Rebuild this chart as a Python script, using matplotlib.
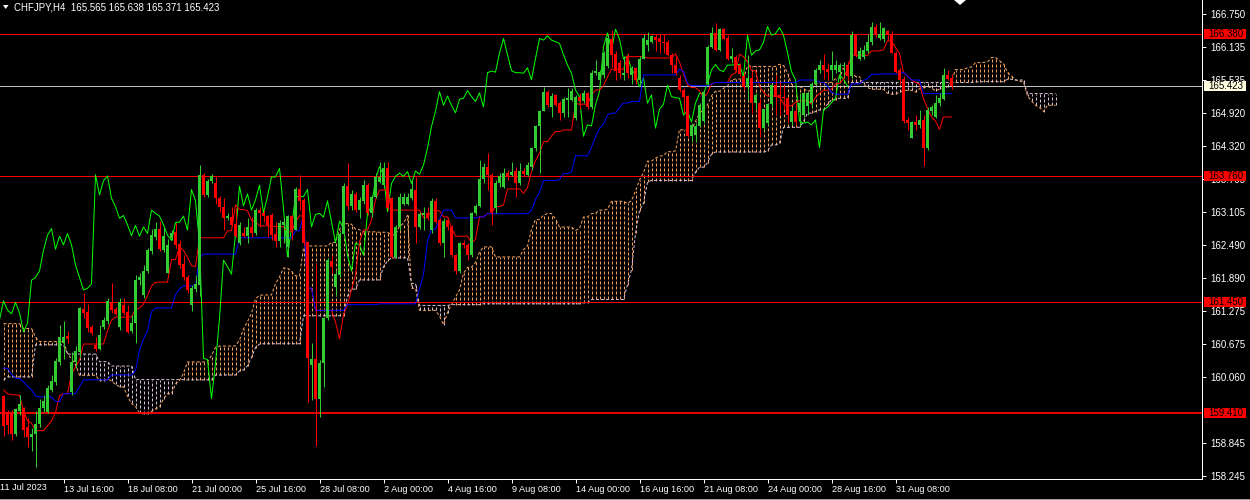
import numpy as np
import pandas as pd
import matplotlib
matplotlib.use("Agg")
import matplotlib.pyplot as plt
from matplotlib.patches import Rectangle, Polygon
from matplotlib.lines import Line2D
from matplotlib import transforms

plt.rcParams['font.family'] = ['Liberation Sans', 'DejaVu Sans']

# CHFJPY H4 candles, first one is 11 Jul 2023 04:00 (bar 1)
opens = [
    159.72, 159.43, 159.40, 159.01, 159.44, 159.49, 159.15, 158.97, 159.01, 159.20,
    159.49, 159.43, 159.83, 159.97, 160.35, 160.70, 160.82, 159.80, 160.34, 160.53,
    161.32, 161.27, 160.98, 160.66, 160.58, 160.99, 161.10, 161.45, 161.32, 160.98,
    161.40, 161.27, 160.91, 161.06, 161.85, 161.58, 162.01, 162.39, 162.65, 162.79,
    162.41, 161.99, 162.62, 162.74, 162.51, 162.15, 161.91, 161.40, 161.69, 161.76,
    163.79, 163.42, 163.68, 163.63, 163.36, 163.20, 162.99, 163.02, 162.88, 162.53,
    162.72, 162.66, 162.82, 162.71, 163.14, 163.09, 163.03, 163.05, 162.70, 162.58,
    162.86, 162.47, 163.03, 162.78, 163.52, 163.33, 162.55, 160.29, 160.39, 159.67,
    160.32, 161.15, 162.20, 161.73, 161.94, 162.70, 163.58, 163.22, 163.44, 163.14,
    163.31, 163.60, 163.09, 163.39, 163.66, 163.60, 163.91, 163.36, 162.28, 162.82,
    163.25, 163.26, 163.36, 163.51, 162.83, 163.05, 163.08, 162.77, 163.31, 162.96,
    162.54, 162.96, 162.83, 162.31, 162.02, 162.53, 162.50, 162.31, 163.08, 163.21,
    163.71, 163.94, 163.79, 163.17, 163.63, 163.57, 163.82, 163.79, 163.86, 163.63,
    163.86, 163.79, 163.94, 164.28, 164.68, 164.96, 165.32, 165.04, 165.26, 165.11,
    164.92, 165.17, 165.17, 164.84, 165.23, 165.14, 165.30, 165.04, 165.66, 165.54,
    165.63, 165.79, 166.29, 166.01, 165.85, 165.63, 165.98, 165.63, 165.76, 165.54,
    165.93, 166.18, 166.24, 166.33, 166.30, 166.24, 166.24, 166.00, 165.81, 165.57,
    165.35, 165.24, 164.50, 164.52, 164.69, 164.78, 165.47, 166.15, 166.40, 166.09,
    166.47, 166.30, 165.93, 165.96, 165.81, 165.60, 165.41, 165.57, 165.11, 165.11,
    164.65, 164.74, 165.09, 165.44, 165.26, 165.23, 165.20, 164.76, 164.96, 164.95,
    164.90, 165.05, 165.11, 165.47, 165.72, 165.82, 165.74, 165.72, 165.72, 165.68,
    165.80, 165.82, 165.60, 166.36, 165.93, 165.95, 166.07, 166.23, 166.52, 166.30,
    166.29, 166.43, 166.39, 166.04, 165.72, 165.55, 164.80, 164.47, 164.76, 164.71,
    164.80, 164.29, 164.96, 164.86, 165.11, 165.19, 165.63, 165.565,
]
highs = [
    159.74, 159.46, 159.46, 159.50, 159.74, 159.52, 159.31, 159.12, 159.44, 159.67,
    159.74, 159.92, 160.10, 160.41, 161.02, 161.10, 160.92, 160.53, 160.63, 161.36,
    161.61, 161.42, 161.02, 160.81, 161.02, 161.18, 161.53, 161.79, 161.36, 161.52,
    161.53, 161.39, 161.21, 161.94, 161.98, 162.13, 162.44, 162.80, 162.93, 162.94,
    162.83, 162.60, 162.77, 162.91, 162.59, 162.31, 161.94, 161.76, 161.94, 163.97,
    163.82, 163.72, 163.80, 163.76, 163.40, 163.36, 163.08, 163.20, 163.17, 162.93,
    162.83, 162.99, 163.02, 163.17, 163.20, 163.14, 163.05, 163.08, 162.93, 162.96,
    162.99, 163.05, 163.05, 163.57, 163.79, 163.36, 162.56, 160.69, 162.16, 160.38,
    161.18, 162.25, 162.31, 162.04, 162.74, 163.63, 164.00, 163.51, 163.48, 163.39,
    163.69, 163.63, 163.42, 163.82, 164.03, 164.03, 164.03, 163.39, 162.87, 163.45,
    163.45, 163.45, 163.69, 163.75, 163.11, 163.20, 163.20, 163.36, 163.36, 162.99,
    162.99, 163.01, 162.86, 162.34, 162.56, 162.59, 162.53, 163.11, 163.25, 164.07,
    164.00, 164.19, 163.82, 163.69, 163.82, 163.91, 163.88, 164.03, 163.94, 164.00,
    163.91, 164.03, 164.31, 164.71, 164.98, 165.41, 165.35, 165.29, 165.28, 165.14,
    165.23, 165.38, 165.38, 165.26, 165.29, 165.35, 165.32, 165.72, 165.90, 165.72,
    166.06, 166.39, 166.46, 166.06, 165.90, 165.97, 166.03, 165.79, 165.78, 165.97,
    166.39, 166.41, 166.36, 166.38, 166.38, 166.39, 166.27, 166.03, 165.97, 165.63,
    165.38, 165.26, 164.74, 164.74, 165.11, 165.35, 166.18, 166.52, 166.58, 166.50,
    166.49, 166.36, 166.12, 165.99, 165.84, 165.69, 165.99, 165.69, 165.29, 165.20,
    165.01, 165.12, 165.47, 165.63, 165.50, 165.44, 165.23, 165.04, 165.11, 165.29,
    165.32, 165.32, 165.50, 165.75, 165.90, 166.01, 165.84, 166.06, 165.90, 165.84,
    165.87, 165.87, 166.44, 166.39, 166.15, 166.18, 166.39, 166.60, 166.56, 166.61,
    166.52, 166.46, 166.43, 166.07, 165.75, 165.60, 164.86, 164.78, 164.89, 164.98,
    164.89, 165.03, 165.08, 165.26, 165.29, 165.75, 165.72, 165.638,
]
lows = [
    158.99, 159.01, 158.91, 158.99, 159.36, 158.96, 158.78, 158.70, 158.42, 159.15,
    159.43, 159.40, 159.80, 159.92, 160.29, 160.40, 160.69, 159.74, 160.23, 160.44,
    161.15, 160.90, 160.84, 160.55, 160.56, 160.96, 161.05, 161.24, 161.21, 160.93,
    161.20, 160.87, 160.87, 160.69, 161.76, 161.52, 161.98, 162.34, 162.59, 162.39,
    162.36, 161.98, 162.59, 162.44, 162.07, 161.85, 161.61, 161.29, 161.64, 161.55,
    163.39, 163.39, 163.63, 163.26, 163.10, 162.77, 162.96, 162.84, 162.65, 162.50,
    162.65, 162.53, 162.65, 162.68, 162.83, 162.93, 162.65, 162.59, 162.47, 162.47,
    162.53, 162.28, 162.59, 162.77, 163.14, 162.50, 159.61, 159.64, 158.80, 159.34,
    159.89, 161.11, 161.98, 161.55, 161.91, 162.66, 163.14, 163.14, 163.11, 162.99,
    163.26, 163.05, 163.02, 163.36, 163.63, 163.54, 163.14, 162.25, 162.25, 162.77,
    163.23, 163.23, 163.33, 162.53, 162.80, 162.77, 162.96, 162.71, 162.90, 162.50,
    162.28, 162.77, 162.28, 161.96, 161.99, 162.44, 162.22, 162.28, 163.05, 163.20,
    163.63, 163.51, 162.87, 163.08, 163.57, 163.54, 163.69, 163.76, 163.39, 163.60,
    163.76, 163.76, 163.88, 164.22, 163.82, 164.96, 165.04, 164.86, 165.06, 164.80,
    164.86, 164.86, 165.14, 164.80, 165.01, 165.11, 165.01, 165.01, 165.63, 165.47,
    165.57, 165.75, 165.78, 165.54, 165.57, 165.54, 165.57, 165.47, 165.47, 165.47,
    165.93, 166.06, 166.21, 166.06, 166.03, 166.03, 165.97, 165.66, 165.63, 165.32,
    164.92, 164.49, 164.40, 164.40, 164.68, 164.74, 165.44, 166.12, 166.06, 166.06,
    166.27, 165.90, 165.84, 165.69, 165.60, 165.35, 165.17, 164.92, 165.01, 164.49,
    164.62, 164.71, 165.04, 164.89, 164.89, 165.01, 164.77, 164.71, 164.71, 164.68,
    164.86, 164.89, 165.04, 165.44, 165.66, 165.55, 165.54, 165.54, 165.66, 165.54,
    165.60, 165.54, 165.57, 165.96, 165.90, 165.93, 166.03, 166.18, 166.33, 166.27,
    166.24, 166.27, 166.03, 165.66, 165.44, 164.74, 164.61, 164.46, 164.62, 164.65,
    163.96, 164.25, 164.89, 164.83, 165.06, 165.17, 165.53, 165.371,
]
closes = [
    159.16, 159.18, 159.01, 159.47, 159.57, 159.09, 158.97, 159.02, 159.20, 159.49,
    159.63, 159.87, 159.99, 160.36, 160.80, 160.80, 160.76, 160.34, 160.55, 161.33,
    161.25, 160.97, 160.88, 160.58, 160.84, 161.12, 161.47, 161.30, 161.23, 161.44,
    161.25, 160.90, 161.06, 161.85, 161.90, 162.02, 162.40, 162.68, 162.80, 162.42,
    162.66, 162.50, 162.71, 162.50, 162.13, 161.90, 161.67, 161.70, 161.78, 163.79,
    163.42, 163.68, 163.77, 163.36, 163.20, 162.99, 163.04, 162.87, 162.67, 162.86,
    162.66, 162.83, 162.71, 163.14, 163.08, 163.03, 162.87, 162.68, 162.58, 162.91,
    162.92, 163.03, 162.77, 163.52, 163.31, 162.53, 160.41, 160.39, 159.67, 160.32,
    161.15, 162.22, 162.10, 161.96, 162.70, 163.58, 163.22, 163.44, 163.14, 163.33,
    163.60, 163.09, 163.39, 163.75, 163.75, 163.91, 163.17, 162.28, 162.82, 163.39,
    163.39, 163.39, 163.52, 162.83, 163.06, 163.08, 163.01, 163.31, 162.93, 162.54,
    162.94, 162.82, 162.31, 162.02, 162.53, 162.50, 162.31, 163.08, 163.21, 163.71,
    163.94, 163.79, 163.11, 163.63, 163.76, 163.82, 163.76, 163.85, 163.63, 163.86,
    163.80, 163.97, 164.28, 164.68, 164.96, 165.32, 165.07, 165.24, 165.07, 164.93,
    165.18, 165.20, 165.34, 165.23, 165.14, 165.30, 165.04, 165.67, 165.70, 165.68,
    166.03, 166.30, 166.00, 165.71, 165.67, 165.67, 165.66, 165.76, 165.54, 165.93,
    166.30, 166.27, 166.35, 166.27, 166.24, 166.21, 166.00, 165.81, 165.66, 165.35,
    165.23, 164.50, 164.71, 164.69, 165.08, 165.32, 166.15, 166.40, 166.09, 166.47,
    166.29, 165.92, 165.98, 165.72, 165.64, 165.41, 165.57, 165.11, 165.26, 164.65,
    165.00, 165.09, 165.44, 165.23, 165.21, 165.20, 164.89, 164.96, 164.76, 165.11,
    165.29, 165.29, 165.47, 165.72, 165.82, 165.72, 165.69, 165.81, 165.81, 165.82,
    165.82, 165.60, 166.36, 165.99, 166.07, 166.09, 166.23, 166.52, 166.36, 166.39,
    166.50, 166.36, 166.04, 165.69, 165.54, 164.78, 164.74, 164.76, 164.71, 164.80,
    164.29, 164.99, 165.03, 165.12, 165.20, 165.63, 165.55, 165.423,
]

tenkan_lead = [159.83, 159.76, 159.74, 159.74, 159.73, 159.45]
kijun_lead = [160.23, 160.23, 160.12, 160.04, 160.04, 159.98, 159.90, 159.83,
              159.72, 159.70, 159.70, 159.70, 159.70, 159.62, 159.61]
span_a_lead = [161.05, 161.05, 161.05, 161.05, 161.05, 160.96, 160.96, 160.96,
               160.80, 160.72, 160.72, 160.72, 160.72, 160.72, 160.72, 160.72,
               160.50, 160.40, 160.30, 160.10, 160.10, 160.10, 160.10, 160.10,
               160.00, 160.00]
span_b_lead = [160.01, 160.07, 160.07, 160.07, 160.07, 160.07, 160.07, 160.07,
               160.66, 160.66, 160.66, 160.66, 160.66, 160.66, 160.66, 160.66,
               160.49, 160.49, 160.49, 160.49, 160.49, 160.49, 160.49, 160.49,
               160.35, 160.35, 160.35, 160.27, 160.27, 160.27, 160.27, 160.27,
               160.27, 160.02, 160.02, 160.02, 160.02, 160.02, 160.02, 160.02,
               160.02, 160.02, 160.02, 160.02, 160.02, 160.02]

levels = [166.380, 163.760, 161.450, 159.410]
price_now = 165.423
price_ticks = [166.750, 166.135, 165.535, 164.920, 164.320, 163.705, 163.105,
               162.490, 161.890, 161.275, 160.675, 160.060, 158.845, 158.245]
date_labels = ["11 Jul 2023", "13 Jul 16:00", "18 Jul 08:00", "21 Jul 00:00",
               "25 Jul 16:00", "28 Jul 08:00", "2 Aug 00:00", "4 Aug 16:00",
               "9 Aug 08:00", "14 Aug 00:00", "16 Aug 16:00", "21 Aug 08:00",
               "24 Aug 00:00", "28 Aug 16:00", "31 Aug 08:00"]
title = "CHFJPY,H4  165.565 165.638 165.371 165.423"

BULL = "#32CD32"
BEAR = "#FF0000"
SANDY = "#F4A460"
THISTLE = "#D8BFD8"
PX = 0.72
DOTS = (0, (3, 2))

idx = np.arange(1, len(closes) + 1)
df = pd.DataFrame({"open": opens, "high": highs, "low": lows, "close": closes}, index=idx)


def midline(n):
    hh = df["high"].rolling(n, min_periods=1).max()
    ll = df["low"].rolling(n, min_periods=1).min()
    return (hh + ll) / 2


tenkan = midline(9)
tenkan.iloc[:len(tenkan_lead)] = tenkan_lead
kijun = midline(26)
kijun.iloc[:len(kijun_lead)] = kijun_lead

span_a = (tenkan + kijun) / 2
span_a.index = idx + 26
span_a = pd.concat([pd.Series(span_a_lead, index=np.arange(1, len(span_a_lead) + 1)), span_a])
span_b = midline(52)
span_b.index = idx + 26
span_b = span_b[span_b.index > len(span_b_lead)]
span_b = pd.concat([pd.Series(span_b_lead, index=np.arange(1, len(span_b_lead) + 1)), span_b])

disp = np.arange(1, len(closes) + 27)
a = span_a.reindex(disp).values
b = span_b.reindex(disp).values

fig = plt.figure(figsize=(12.5, 5), dpi=100, facecolor="black")
ax = fig.add_axes([0, 21 / 500, 1202 / 1250, 479 / 500])
ax.set_facecolor("black")
ymin, ymax = 158.190, 167.008
ax.set_xlim(0.125, 300.625)
ax.set_ylim(ymin, ymax)
per_px = (ymax - ymin) / 479

# cloud hatch and spans
up_cloud = a >= b
ax.vlines(disp[up_cloud], b[up_cloud], a[up_cloud], colors=SANDY, linewidth=PX, linestyles=DOTS, zorder=1)
ax.vlines(disp[~up_cloud], a[~up_cloud], b[~up_cloud], colors=THISTLE, linewidth=PX, linestyles=DOTS, zorder=1)
ax.plot(disp, a, color=SANDY, lw=PX, ls=DOTS, zorder=1.2)
ax.plot(disp, b, color=THISTLE, lw=PX, ls=DOTS, zorder=1.2)

for lv in levels:
    ax.axhline(lv, color="#FF0000", lw=1.3 if lv == 159.410 else PX, zorder=2)
ax.axhline(price_now, color="#C0C0C0", lw=PX, zorder=2)

ax.plot(idx - 26, closes, color="#00FF00", lw=PX, zorder=3)
ax.plot(idx, tenkan.values, color="#FF0000", lw=PX, zorder=3)
ax.plot(idx, kijun.values, color="#0000FF", lw=PX, zorder=3)

o = df["open"].values
c = df["close"].values
up = c >= o
cols = np.where(up, BULL, BEAR)
ax.vlines(idx, df["low"].values, df["high"].values, colors=cols, linewidth=PX, zorder=4)
body_h = np.maximum(np.abs(c - o), per_px)
ax.bar(idx, body_h, bottom=np.minimum(o, c), width=0.75, color=cols, linewidth=0, zorder=5)

# axes look
for side in ["top", "left"]:
    ax.spines[side].set_visible(False)
for side in ["right", "bottom"]:
    ax.spines[side].set_color("white")
    ax.spines[side].set_linewidth(PX)
ax.yaxis.tick_right()
ax.set_yticks(price_ticks)
ax.set_yticklabels(["%.3f" % v for v in price_ticks])
ax.tick_params(axis="y", colors="white", length=3, width=PX, pad=3, labelsize=7)
ax.set_xticks(np.arange(16, 16 * len(date_labels), 16))
ax.set_xticklabels(date_labels[1:])
for lab in ax.get_xticklabels():
    lab.set_ha("left")
ax.tick_params(axis="x", colors="white", length=3, width=PX, pad=1.5, labelsize=6.6)
fig.text(0.5 / 1250, 1 - 488 / 500, date_labels[0], color="white", fontsize=6.6, ha="left", va="center")

# price boxes on the right scale
blend = transforms.blended_transform_factory(ax.transAxes, ax.transData)
box_x = 1204 / 1202
for lv in levels + [price_now]:
    fc = "#FFFFE0" if lv == price_now else "#FF0000"
    ax.add_patch(Rectangle((box_x, lv - 5 * per_px), 42 / 1202, 10 * per_px, transform=blend,
                           facecolor=fc, edgecolor="none", clip_on=False, zorder=6))
    ax.text(1208 / 1202, lv, "%.3f" % lv, transform=blend, color="black", fontsize=7,
            ha="left", va="center", clip_on=False, zorder=7)

fig.text(14 / 1250, 1 - 7 / 500, title, color="white", fontsize=7, ha="left", va="center")
fig.add_artist(Polygon([[3 / 1250, 1 - 5 / 500], [8.5 / 1250, 1 - 5 / 500], [5.75 / 1250, 1 - 9 / 500]],
                       closed=True, transform=fig.transFigure, facecolor="white", edgecolor="none"))
fig.add_artist(Polygon([[954 / 1250, 1.0], [966 / 1250, 1.0], [960 / 1250, 1 - 5 / 500]],
                       closed=True, transform=fig.transFigure, facecolor="white", edgecolor="none"))
# thin window border at the very bottom
fig.add_artist(Line2D([0, 1], [1.5 / 500, 1.5 / 500], transform=fig.transFigure, color="#A0A0A0", lw=PX))

fig.savefig("out.png", dpi=100, facecolor="black")
